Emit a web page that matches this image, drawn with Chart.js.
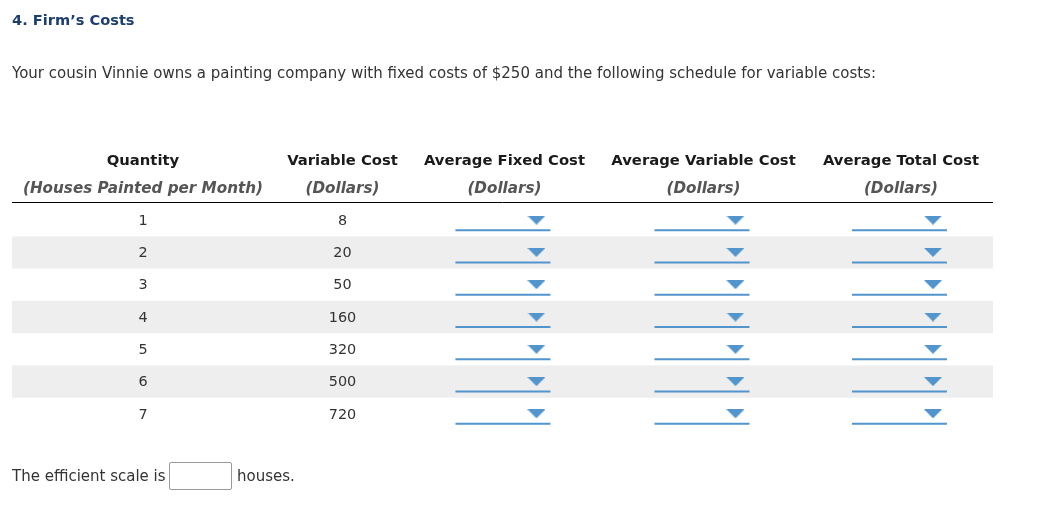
<!DOCTYPE html>
<html>
<head>
<meta charset="utf-8">
<script src="https://cdn.jsdelivr.net/npm/chart.js@4"></script>
<style>
  body { margin: 0; background: #fff; font-family: "DejaVu Sans", Verdana, sans-serif; color: #333; }
  #wrap { position: absolute; left: 0; top: 0; width: 1053px; height: 506px; }
  .txt { position: absolute; left: 12px; white-space: nowrap; line-height: 20px; }
  #title { top: 10px; font-weight: bold; font-size: 14.6px; color: #1c3f6e; }
  #intro { top: 63px; font-size: 15px; }
  #footer { top: 466px; font-size: 15px; }
  #answer { position: absolute; left: 169px; top: 462px; width: 61px; height: 26px; border: 1px solid #9a9a9a; border-radius: 2px; background: #fff; }
  #unit { left: 237px; top: 466px; font-size: 15px; }
</style>
</head>
<body>
<div id="wrap"><canvas id="chart" width="1053" height="506"></canvas></div>
<div class="txt" id="title">4. Firm’s Costs</div>
<div class="txt" id="intro">Your cousin Vinnie owns a painting company with fixed costs of $250 and the following schedule for variable costs:</div>
<div class="txt" id="footer">The efficient scale is</div>
<div id="answer"></div>
<div class="txt" id="unit">houses.</div>
<script>
// 表のデータ
const quantities = [1, 2, 3, 4, 5, 6, 7];
const variableCosts = [8, 20, 50, 160, 320, 500, 720];
const columnTitles = ['Quantity', 'Variable Cost', 'Average Fixed Cost', 'Average Variable Cost', 'Average Total Cost'];
const columnUnits = ['(Houses Painted per Month)', '(Dollars)', '(Dollars)', '(Dollars)', '(Dollars)'];

// 列の中心位置（表の幅に対する%）
const colPos = [13.35, 33.69, 50.2, 70.49, 90.62];
const dropOffset = 3.26;
const blue = '#5294cc';

// ドロップダウンの三角形
function triangleImage() {
    const c = document.createElement('canvas');
    c.width = 18;
    c.height = 9;
    const ctx = c.getContext('2d');
    ctx.fillStyle = blue;
    ctx.beginPath();
    ctx.moveTo(0, 0);
    ctx.lineTo(18, 0);
    ctx.lineTo(9, 9);
    ctx.closePath();
    ctx.fill();
    return c;
}
const tri = triangleImage();

const rowLabels = quantities.map(String);

// 表の描画プラグイン
const tablePlugin = {
    id: 'tablePlugin',
    beforeDatasetsDraw(chart) {
        const ctx = chart.ctx;
        const area = chart.chartArea;
        const y = chart.scales.y;
        const rowH = (area.bottom - area.top) / rowLabels.length;
        ctx.save();
        ctx.fillStyle = '#eeeeee';
        rowLabels.forEach((r, i) => {
            if (i % 2 === 1) {
                const cy = y.getPixelForValue(i);
                ctx.fillRect(area.left, cy - rowH / 2, area.right - area.left, rowH);
            }
        });
        ctx.restore();
    },
    afterDatasetsDraw(chart) {
        const ctx = chart.ctx;
        const area = chart.chartArea;
        const x = chart.scales.x;
        ctx.save();
        ctx.textAlign = 'center';
        ctx.textBaseline = 'middle';
        // 見出し
        columnTitles.forEach((t, i) => {
            const px = x.getPixelForValue(colPos[i]);
            ctx.font = 'bold 14.8px "DejaVu Sans"';
            ctx.fillStyle = '#1a1a1a';
            ctx.fillText(t, px, area.top - 43);
            ctx.font = 'italic bold 15.2px "DejaVu Sans"';
            ctx.fillStyle = '#555';
            ctx.fillText(columnUnits[i], px, area.top - 15);
        });
        ctx.strokeStyle = '#000';
        ctx.lineWidth = 1;
        ctx.beginPath();
        ctx.moveTo(area.left, area.top - 1.5);
        ctx.lineTo(area.right, area.top - 1.5);
        ctx.stroke();
        // セルの値
        ctx.font = '14.4px "DejaVu Sans"';
        ctx.fillStyle = '#333';
        [quantities, variableCosts].forEach((vals, d) => {
            const meta = chart.getDatasetMeta(d);
            meta.data.forEach((pt, i) => ctx.fillText(String(vals[i]), pt.x, pt.y + 1));
        });
        // ドロップダウンの下線
        ctx.strokeStyle = blue;
        ctx.lineWidth = 2;
        for (let d = 2; d < 5; d++) {
            chart.getDatasetMeta(d).data.forEach(pt => {
                ctx.beginPath();
                ctx.moveTo(pt.x - 81, pt.y + 10);
                ctx.lineTo(pt.x + 14, pt.y + 10);
                ctx.stroke();
            });
        }
        ctx.restore();
    }
};

function column(i, hidden, shift) {
    return {
        data: rowLabels.map(r => ({ x: colPos[i] + shift, y: r })),
        pointRadius: hidden ? 0 : 9,
        pointStyle: hidden ? 'circle' : tri,
        showLine: false
    };
}

new Chart(document.getElementById('chart'), {
    type: 'scatter',
    data: {
        datasets: [
            column(0, true, 0),
            column(1, true, 0),
            column(2, false, dropOffset),
            column(3, false, dropOffset),
            column(4, false, dropOffset)
        ]
    },
    options: {
        responsive: false,
        animation: false,
        events: [],
        layout: { padding: { left: 12, right: 60, top: 204, bottom: 76 } },
        plugins: { legend: { display: false }, tooltip: { enabled: false } },
        scales: {
            x: { type: 'linear', min: 0, max: 100, display: false },
            y: { type: 'category', labels: rowLabels, offset: true, display: false }
        }
    },
    plugins: [tablePlugin]
});
</script>
</body>
</html>
